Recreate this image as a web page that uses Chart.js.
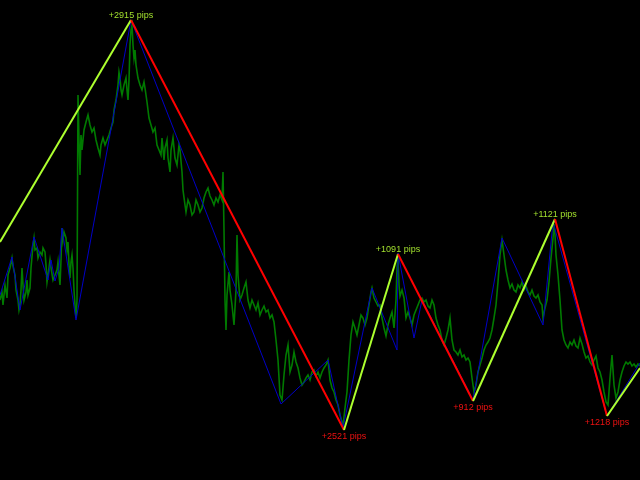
<!DOCTYPE html>
<html lang="en">

<head>
    <meta charset="UTF-8">
    <title>ZigZag pips</title>
    <script src="https://cdn.jsdelivr.net/npm/chart.js"></script>
    <style>
        body {
            margin: 0;
            padding: 0;
            background-color: #000;
        }

        #chart {
            display: block;
        }
    </style>
</head>

<body>
    <canvas id="chart" width="640" height="480"></canvas>

    <script>
        // price line: [bar, level]
        const pricePoints = [
            [0,180],[2,188],[3,175],[5,195],[7,182],[8,205],[10,212],[12,222],[13,214],[15,205],[16,190],[18,180],[19,170],[20,175],
            [21,190],[22,212],[23,195],[24,180],[26,188],[27,200],[28,185],[30,192],[31,212],[33,235],[34,242],[35,230],[37,232],[38,222],
            [40,228],[42,225],[43,232],[45,228],[46,215],[47,198],[48,205],[50,220],[51,212],[53,200],[55,205],[57,210],[58,218],[59,205],
            [60,195],[61,220],[62,252],[63,240],[64,248],[66,242],[67,230],[68,238],[69,215],[70,202],[71,218],[72,225],[73,212],[74,190],
            [75,175],[76,162],[77,180],[78,385],[79,340],[80,305],[81,345],[82,330],[84,350],[86,358],[88,365],[90,355],[92,348],[94,352],
            [96,340],[98,332],[100,325],[101,335],[103,342],[105,335],[107,340],[109,345],[111,352],[113,358],[114,370],[116,380],[118,395],
            [119,408],[120,402],[121,390],[122,385],[124,395],[126,402],[127,390],[128,380],[129,400],[130,435],[131,450],[132,455],[133,435],
            [134,422],[135,430],[136,415],[138,402],[140,395],[142,390],[144,398],[145,392],[147,378],[149,362],[151,355],[153,348],[155,352],
            [157,335],[159,330],[161,325],[162,342],[164,320],[165,332],[167,340],[168,322],[170,308],[171,330],[173,342],[175,322],[177,315],
            [179,335],[180,330],[182,308],[183,290],[185,275],[186,268],[188,280],[190,275],[192,265],[194,268],[196,280],[198,275],[200,268],
            [202,272],[204,282],[206,288],[208,292],[210,284],[212,280],[214,275],[216,282],[218,278],[220,285],[222,280],[223,308],[224,250],
            [225,180],[226,150],[227,185],[229,208],[230,190],[232,175],[234,155],[236,190],[237,245],[238,205],[240,180],[242,185],[244,192],
            [246,198],[248,180],[250,172],[252,180],[254,175],[256,170],[258,177],[260,165],[262,170],[264,174],[266,168],[268,170],[270,162],
            [272,165],[274,158],[276,140],[278,120],[280,85],[282,80],[284,105],[286,125],[288,135],[290,108],[292,115],[294,128],[296,118],
            [298,112],[300,102],[302,95],[304,98],[306,102],[308,105],[310,100],[312,108],[314,110],[316,104],[318,108],[320,102],[322,108],
            [324,112],[326,115],[328,120],[330,100],[332,92],[334,88],[336,80],[338,75],[340,65],[342,58],[343,54],[345,72],[347,88],
            [349,120],[351,145],[353,158],[355,152],[357,145],[359,155],[361,165],[363,162],[365,155],[367,162],[369,175],[371,188],[372,192],
            [374,182],[376,178],[378,174],[380,175],[382,162],[384,152],[386,144],[388,155],[390,162],[392,168],[394,152],[396,180],[397,212],
            [398,222],[399,195],[400,184],[402,190],[404,182],[406,162],[408,168],[410,162],[412,155],[414,165],[416,170],[418,175],[420,180],
            [422,182],[424,178],[426,180],[428,174],[430,172],[432,180],[434,175],[436,162],[438,155],[440,150],[442,140],[444,135],[446,142],
            [448,150],[450,162],[452,140],[454,130],[456,128],[458,125],[460,130],[462,123],[464,125],[466,120],[468,122],[470,118],[472,102],
            [474,88],[476,95],[478,108],[480,115],[482,122],[484,130],[486,135],[488,138],[490,142],[492,150],[494,162],[496,175],[498,198],
            [500,225],[502,240],[504,225],[506,210],[508,200],[510,192],[512,196],[514,190],[516,188],[518,195],[520,192],[522,198],[524,190],
            [526,194],[528,188],[530,185],[532,190],[534,184],[536,182],[538,185],[540,178],[542,175],[543,162],[545,172],[547,180],[549,198],
            [551,222],[553,242],[554,256],[555,245],[556,225],[558,205],[560,180],[562,150],[564,140],[566,135],[568,132],[570,138],[572,135],
            [574,140],[576,134],[578,132],[580,142],[582,136],[584,128],[586,122],[588,124],[590,118],[592,115],[594,120],[596,124],[598,112],
            [600,108],[602,100],[604,88],[606,78],[608,75],[610,102],[612,125],[614,95],[616,82],[618,88],[620,100],[622,108],[624,114],
            [626,118],[628,116],[630,118],[632,114],[634,116],[636,113],[638,116],[640,114]
        ];

        // small zigzag (blue)
        const minorZigzag = [
            [0,185],[12,223],[20,170],[34,243],[48,200],[51,220],[55,199],[59,212],[62,252],[76,160],[131,460],[281,76],[328,120],
            [343,52],[372,192],[397,130],[398,227],[414,142],[422,180],[473,80],[502,242],[543,155],[553,258],[607,64],[640,117]
        ];

        // main zigzag, up legs green-yellow, down legs red
        const majorZigzag = [[0,238],[131,460],[344,50],[398,226],[473,79],[555,261],[607,64],[640,112]];

        // label for each turning point of the main zigzag (index 1..6)
        const pipLabels = ['+2915 pips', '+2521 pips', '+1091 pips', '+912 pips', '+1121 pips', '+1218 pips'];

        const UP = '#adff2f';
        const DOWN = '#ff0000';

        const toXY = arr => arr.map(p => ({ x: p[0], y: p[1] }));

        // writes the pips text at each swing point
        const pipLabelPlugin = {
            id: 'pipLabels',
            afterDatasetsDraw(chart) {
                const ctx = chart.ctx;
                const xs = chart.scales.x;
                const ys = chart.scales.y;
                ctx.save();
                ctx.font = '9px "Liberation Sans", Arial, sans-serif';
                ctx.textAlign = 'center';
                ctx.textBaseline = 'alphabetic';
                pipLabels.forEach((txt, i) => {
                    const cur = majorZigzag[i + 1];
                    const prev = majorZigzag[i];
                    const px = xs.getPixelForValue(cur[0]);
                    const py = ys.getPixelForValue(cur[1]);
                    if (cur[1] > prev[1]) {
                        ctx.fillStyle = '#a2e02e';
                        ctx.fillText(txt, px, py - 2);
                    } else {
                        ctx.fillStyle = '#ee1111';
                        ctx.fillText(txt, px, py + 9);
                    }
                });
                ctx.restore();
            }
        };

        const ctx = document.getElementById('chart').getContext('2d');
        const chart = new Chart(ctx, {
            type: 'line',
            data: {
                datasets: [{
                    data: toXY(majorZigzag),
                    borderWidth: 2,
                    borderColor: UP,
                    segment: {
                        borderColor: c => c.p1.parsed.y > c.p0.parsed.y ? UP : DOWN
                    },
                    order: 1
                },
                {
                    data: toXY(minorZigzag),
                    borderColor: '#0000c8',
                    borderWidth: 1,
                    order: 2
                },
                {
                    data: toXY(pricePoints),
                    borderColor: '#007a00',
                    borderWidth: 1.6,
                    order: 3
                }]
            },
            options: {
                responsive: false,
                animation: false,
                layout: { padding: 0 },
                elements: {
                    point: { radius: 0 },
                    line: { tension: 0, borderJoinStyle: 'miter' }
                },
                scales: {
                    x: { type: 'linear', min: 0, max: 640, display: false },
                    y: { type: 'linear', min: 0, max: 480, display: false }
                },
                plugins: {
                    legend: { display: false },
                    tooltip: { enabled: false }
                }
            },
            plugins: [pipLabelPlugin]
        });
    </script>

</body>

</html>
